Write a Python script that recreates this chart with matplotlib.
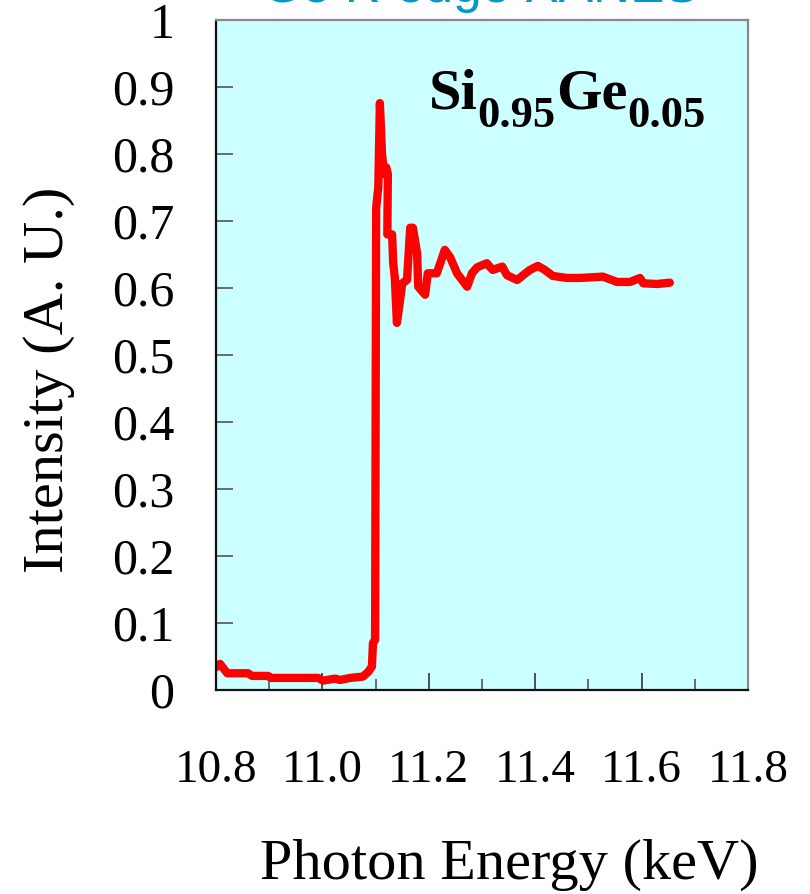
import numpy as np
import matplotlib
matplotlib.use("Agg")
import matplotlib.pyplot as plt
from matplotlib.ticker import MultipleLocator, FormatStrFormatter

# Ge K-edge XANES of Si0.95Ge0.05
energy = [10.800, 10.8075, 10.821, 10.860, 10.868, 10.898, 10.903, 10.992, 11.001,
          11.024, 11.033, 11.046, 11.052, 11.076, 11.086, 11.093, 11.095, 11.099,
          11.101, 11.105, 11.108, 11.112, 11.116, 11.120, 11.123, 11.122, 11.131,
          11.133, 11.136, 11.140, 11.146, 11.150, 11.159, 11.165, 11.170, 11.178,
          11.180, 11.193, 11.198, 11.215, 11.230, 11.240, 11.253, 11.272, 11.281,
          11.291, 11.309, 11.320, 11.338, 11.347, 11.366, 11.377, 11.390, 11.405,
          11.418, 11.433, 11.460, 11.484, 11.527, 11.554, 11.578, 11.597, 11.603,
          11.629, 11.653]
intensity = [0.034, 0.039, 0.025, 0.025, 0.021, 0.021, 0.018, 0.018, 0.014,
             0.017, 0.015, 0.017, 0.018, 0.020, 0.027, 0.035, 0.070, 0.075,
             0.720, 0.750, 0.876, 0.800, 0.770, 0.780, 0.770, 0.680, 0.680,
             0.637, 0.616, 0.548, 0.582, 0.607, 0.612, 0.690, 0.690, 0.652,
             0.602, 0.590, 0.622, 0.622, 0.657, 0.646, 0.622, 0.602, 0.622,
             0.631, 0.637, 0.627, 0.632, 0.619, 0.612, 0.619, 0.627, 0.633,
             0.627, 0.618, 0.615, 0.615, 0.617, 0.609, 0.609, 0.615, 0.607,
             0.606, 0.608]

serif = "Liberation Serif"
sans = "Liberation Sans"

fig = plt.figure(figsize=(8.1, 8.94), dpi=100)
ax = fig.add_axes([0.2667, 0.2282, 0.6568, 0.7494])
ax.set_facecolor("#ccffff")

ax.plot(energy, intensity, color="#ff0000", lw=6, solid_capstyle="round",
        solid_joinstyle="round")

ax.set_xlim(10.8, 11.8)
ax.set_ylim(0, 1)
ax.xaxis.set_major_locator(MultipleLocator(0.2))
ax.xaxis.set_minor_locator(MultipleLocator(0.1))
ax.xaxis.set_major_formatter(FormatStrFormatter("%.1f"))
ax.yaxis.set_major_locator(MultipleLocator(0.1))
ax.yaxis.set_major_formatter(lambda v, p: f"{v:g}")

ax.tick_params(axis="x", which="major", direction="in", length=12, width=1.2,
               color="#333333", pad=43, labelsize=34)
ax.tick_params(axis="x", which="minor", direction="in", length=8, width=1.2,
               color="#555555")
ax.tick_params(axis="y", direction="in", length=12, width=1.2, color="#555555",
               pad=30, labelsize=36)
for lab in ax.get_xticklabels() + ax.get_yticklabels():
    lab.set_fontfamily(serif)

for side in ["left", "bottom"]:
    ax.spines[side].set_color("#111111")
    ax.spines[side].set_linewidth(1.6)
for side in ["top", "right"]:
    ax.spines[side].set_color("#888888")
    ax.spines[side].set_linewidth(1.6)

ax.set_xlabel("Photon Energy (keV)", fontsize=42, family=serif)
ax.xaxis.set_label_coords(0.551, -0.222)
ax.set_ylabel("Intensity (A. U.)", fontsize=42, family=serif)
ax.yaxis.set_label_coords(-0.265, 0.463)

# sample label with subscripts
t1 = ax.text(0.40, 0.868, "Si", transform=ax.transAxes, fontsize=42,
             weight="bold", family=serif, va="baseline")
t2 = ax.annotate("0.95", xy=(1, 0), xycoords=t1, xytext=(0, -11),
                 textcoords="offset points", fontsize=32, weight="bold",
                 family=serif, va="bottom")
t3 = ax.annotate("Ge", xy=(1, 0), xycoords=(t2, t1), fontsize=42,
                 weight="bold", family=serif, va="bottom")
t4 = ax.annotate("0.05", xy=(1, 0), xycoords=(t3, t2), fontsize=32,
                 weight="bold", family=serif, va="bottom")

# title, mostly cut off by the top edge as in the original
fig.text(0.593, 1 - 2 / 894, "Ge K-edge XANES", fontsize=37, family=sans,
         color="#0099cc", ha="center", va="baseline")

fig.savefig("out.png", dpi=100)
